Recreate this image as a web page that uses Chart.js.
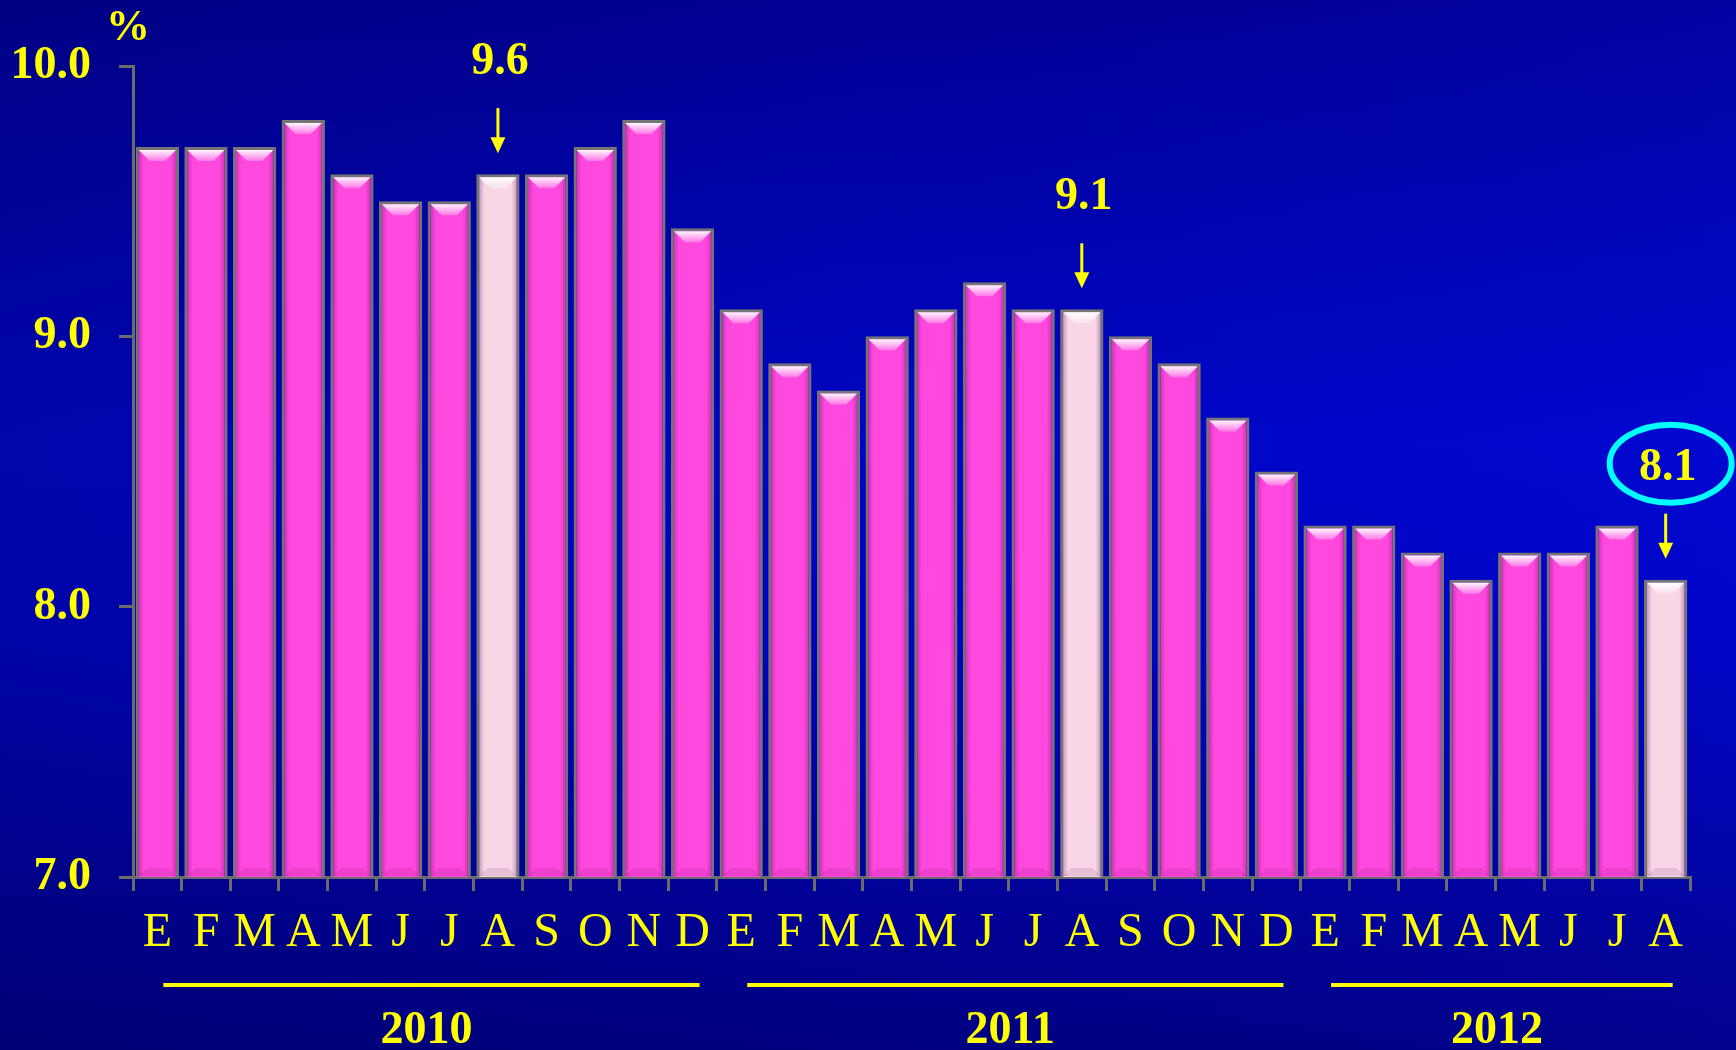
<!DOCTYPE html>
<html>
<head>
<meta charset="utf-8">
<title>Tasa de desocupación mensual 2010–2012</title>
<script src="https://cdn.jsdelivr.net/npm/chart.js@4/dist/chart.umd.min.js"></script>
<style>
  html, body { margin: 0; padding: 0; background: #000088; overflow: hidden; }
  #wrap { width: 1736px; height: 1050px; position: relative; }
  canvas { display: block; }
</style>
</head>
<body>
<div id="wrap"><canvas id="chart" width="1736" height="1050"></canvas></div>
<script>
// Monthly initials (Spanish): Enero ... Diciembre
const months = [
  'E','F','M','A','M','J','J','A','S','O','N','D',
  'E','F','M','A','M','J','J','A','S','O','N','D',
  'E','F','M','A','M','J','J','A'
];
// Rate, percent
const rates = [
  9.7, 9.7, 9.7, 9.8, 9.6, 9.5, 9.5, 9.6, 9.6, 9.7, 9.8, 9.4,
  9.1, 8.9, 8.8, 9.0, 9.1, 9.2, 9.1, 9.1, 9.0, 8.9, 8.7, 8.5,
  8.3, 8.3, 8.2, 8.1, 8.2, 8.2, 8.3, 8.1
];
// August of each year is called out
const calloutIndex = [7, 19, 31];
const circledIndex = [31];
// Year groups under the month axis
const years = ['2010', '2011', '2012'];
const yearFirst = [0, 12, 24];
const yearLast = [11, 23, 31];
// Value axis
const yMin = 7, yMax = 10, yStep = 1;

const YELLOW = '#ffff00';
const MAGENTA = '#ff48de';
const PALE = '#f8d6e6';
const GREY = '#6b6b6b';
const SERIF = '"Liberation Serif", "Times New Roman", serif';

// Deep blue backdrop, brightest through the middle band
const backdrop = {
  id: 'backdrop',
  beforeDraw(chart) {
    const { ctx, width, height } = chart;
    ctx.save();
    const g = ctx.createLinearGradient(0, 0, 0, height);
    g.addColorStop(0, '#000098');
    g.addColorStop(0.42, '#0006cc');
    g.addColorStop(0.6, '#0004c4');
    g.addColorStop(1, '#000084');
    ctx.fillStyle = g;
    ctx.fillRect(0, 0, width, height);
    const h = ctx.createLinearGradient(0, 0, width, 0);
    h.addColorStop(0, 'rgba(0,0,60,0.22)');
    h.addColorStop(0.5, 'rgba(0,0,60,0.05)');
    h.addColorStop(1, 'rgba(20,30,255,0.08)');
    ctx.fillStyle = h;
    ctx.fillRect(0, 0, width, height);
    ctx.restore();
  }
};

// Bevelled look on each bar, drawn on the library's bar elements
const bevel = {
  id: 'bevel',
  afterDatasetsDraw(chart) {
    const { ctx, chartArea } = chart;
    const meta = chart.getDatasetMeta(0);
    const bw = 3;
    ctx.save();
    meta.data.forEach((bar) => {
      const p = bar.getProps(['x', 'y', 'base', 'width'], true);
      const l = p.x - p.width / 2 + bw;
      const r = p.x + p.width / 2 - bw;
      const t = p.y + bw;
      const b = Math.min(p.base, chartArea.bottom) - 1;
      const d = 11;
      // side shading
      let gs = ctx.createLinearGradient(l, 0, l + 5, 0);
      gs.addColorStop(0, 'rgba(90,0,80,0.28)');
      gs.addColorStop(1, 'rgba(90,0,80,0)');
      ctx.fillStyle = gs;
      ctx.fillRect(l, t, 5, b - t);
      gs = ctx.createLinearGradient(r - 5, 0, r, 0);
      gs.addColorStop(0, 'rgba(90,0,80,0)');
      gs.addColorStop(1, 'rgba(90,0,80,0.28)');
      ctx.fillStyle = gs;
      ctx.fillRect(r - 5, t, 5, b - t);
      // top facet
      const gt = ctx.createLinearGradient(0, t, 0, t + d);
      gt.addColorStop(0, 'rgba(255,255,255,0.95)');
      gt.addColorStop(1, 'rgba(255,255,255,0.25)');
      ctx.fillStyle = gt;
      ctx.beginPath();
      ctx.moveTo(l, t);
      ctx.lineTo(r, t);
      ctx.lineTo(r - d, t + d);
      ctx.lineTo(l + d, t + d);
      ctx.closePath();
      ctx.fill();
      // bottom facet
      ctx.fillStyle = 'rgba(80,0,70,0.10)';
      ctx.beginPath();
      ctx.moveTo(l, b);
      ctx.lineTo(r, b);
      ctx.lineTo(r - 8, b - 8);
      ctx.lineTo(l + 8, b - 8);
      ctx.closePath();
      ctx.fill();
    });
    ctx.restore();
  }
};

function arrow(ctx, x, y0, y1) {
  ctx.beginPath();
  ctx.moveTo(x, y0);
  ctx.lineTo(x, y1 - 12);
  ctx.stroke();
  ctx.beginPath();
  ctx.moveTo(x - 7.5, y1 - 16);
  ctx.lineTo(x + 7.5, y1 - 16);
  ctx.lineTo(x, y1);
  ctx.closePath();
  ctx.fill();
}

const notes = {
  id: 'notes',
  afterDraw(chart) {
    const { ctx } = chart;
    const xs = chart.scales.x;
    const ys = chart.scales.y;
    ctx.save();
    ctx.fillStyle = YELLOW;
    ctx.strokeStyle = YELLOW;

    // unit label
    ctx.font = 'bold 44px ' + SERIF;
    ctx.textAlign = 'center';
    ctx.textBaseline = 'alphabetic';
    ctx.fillText('%', 128, 40);

    // callouts with arrows
    calloutIndex.forEach((i) => {
      const cx = xs.getPixelForValue(i);
      const top = ys.getPixelForValue(rates[i]);
      const tip = top - 21;
      const tail = tip - 45;
      ctx.lineWidth = 3;
      arrow(ctx, cx, tail, tip);
      ctx.font = 'bold 46px ' + SERIF;
      ctx.textAlign = 'center';
      ctx.textBaseline = 'alphabetic';
      const lblBase = tail - 34;
      ctx.fillText(rates[i].toFixed(1), cx + 2, lblBase);
      if (circledIndex.includes(i)) {
        ctx.save();
        ctx.strokeStyle = '#00ffff';
        ctx.lineWidth = 6;
        ctx.beginPath();
        ctx.ellipse(cx + 5, lblBase - 16, 61, 39, 0, 0, Math.PI * 2);
        ctx.stroke();
        ctx.restore();
      }
    });

    // year rules and labels
    years.forEach((yr, k) => {
      const x0 = xs.getPixelForValue(yearFirst[k]) + 6;
      const x1 = xs.getPixelForValue(yearLast[k]) + 7;
      ctx.fillRect(x0, 983, x1 - x0, 4);
      ctx.font = 'bold 46px ' + SERIF;
      ctx.textAlign = 'center';
      ctx.textBaseline = 'alphabetic';
      ctx.fillText(yr, (x0 + x1) / 2 - 5, 1043);
    });
    ctx.restore();
  }
};

new Chart(document.getElementById('chart'), {
  type: 'bar',
  data: {
    labels: months,
    datasets: [{
      data: rates,
      backgroundColor: (c) => calloutIndex.includes(c.dataIndex) ? PALE : MAGENTA,
      borderColor: '#757575',
      borderWidth: 3,
      borderSkipped: false,
      barPercentage: 0.89,
      categoryPercentage: 1.0
    }]
  },
  options: {
    responsive: false,
    animation: false,
    devicePixelRatio: 1,
    layout: { padding: { top: 66, right: 46, left: 0, bottom: 0 } },
    plugins: { legend: { display: false }, tooltip: { enabled: false } },
    scales: {
      x: {
        grid: {
          display: true,
          drawOnChartArea: false,
          drawTicks: true,
          tickLength: 14,
          color: GREY,
          lineWidth: 3,
          offset: true
        },
        border: { display: true, color: GREY, width: 3 },
        ticks: {
          color: YELLOW,
          font: { family: SERIF, size: 48, weight: 'normal' },
          padding: 14,
          maxRotation: 0,
          autoSkip: false
        },
        afterFit(scale) { scale.height = 173; }
      },
      y: {
        min: yMin,
        max: yMax,
        grid: {
          display: true,
          drawOnChartArea: false,
          drawTicks: true,
          tickLength: 14,
          color: GREY,
          lineWidth: 3
        },
        border: { display: true, color: GREY, width: 3 },
        ticks: {
          stepSize: yStep,
          color: YELLOW,
          font: { family: SERIF, size: 46, weight: 'bold' },
          padding: 28,
          callback: (v) => Number(v).toFixed(1)
        },
        afterFit(scale) { scale.width = 133; }
      }
    }
  },
  plugins: [backdrop, bevel, notes]
});
</script>
</body>
</html>
